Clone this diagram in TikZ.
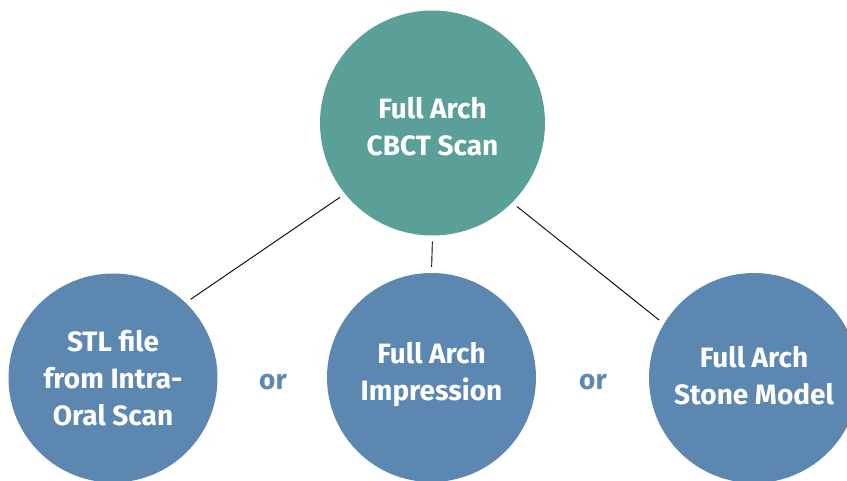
\documentclass[tikz,border=0pt]{standalone}
\usepackage{fontspec}
\setmainfont{Fira Sans}
\definecolor{tealc}{HTML}{5AA098}
\definecolor{bluec}{HTML}{5B87B0}
\begin{document}
\begin{tikzpicture}[x=1pt,y=-1pt,
  bubble/.style={circle,inner sep=0pt},
  btext/.style={text=white,align=center,inner sep=0pt,
    font=\fontsize{28}{37}\selectfont\bfseries},
  orlabel/.style={text=bluec,font=\fontsize{28}{30}\selectfont\bfseries},
  link/.style={draw=black,line width=0.9pt,shorten >=6pt,shorten <=6pt}]
\useasboundingbox (0,0) rectangle (847,481);
\node[bubble,fill=tealc,minimum size=225pt] (top) at (432.5,123) {};
\node[bubble,fill=bluec,minimum size=209pt] (left) at (113,378) {};
\node[bubble,fill=bluec,minimum size=209pt] (mid) at (431.5,377.5) {};
\node[bubble,fill=bluec,minimum size=210pt] (right) at (754,378) {};
\node[btext] (topt) at ([yshift=-4pt]top.center) {Full Arch\\CBCT Scan};
\node[btext] (leftt) at ([yshift=0pt]left.center) {STL file\\from Intra-\\Oral Scan};
\node[btext] (midt) at ([yshift=3pt]mid.center) {Full Arch\\Impression};
\node[btext] (rightt) at ([yshift=2pt]right.center) {Full Arch\\Stone Model};
\node[orlabel] (or1) at (273,382) {or};
\node[orlabel] (or2) at (593,382) {or};
\draw[link] (top.219) -- (left.46);
\draw[link] (top.270) -- (mid.90);
\draw[link] (top.315.7) -- (right.149);
\end{tikzpicture}
\end{document}
